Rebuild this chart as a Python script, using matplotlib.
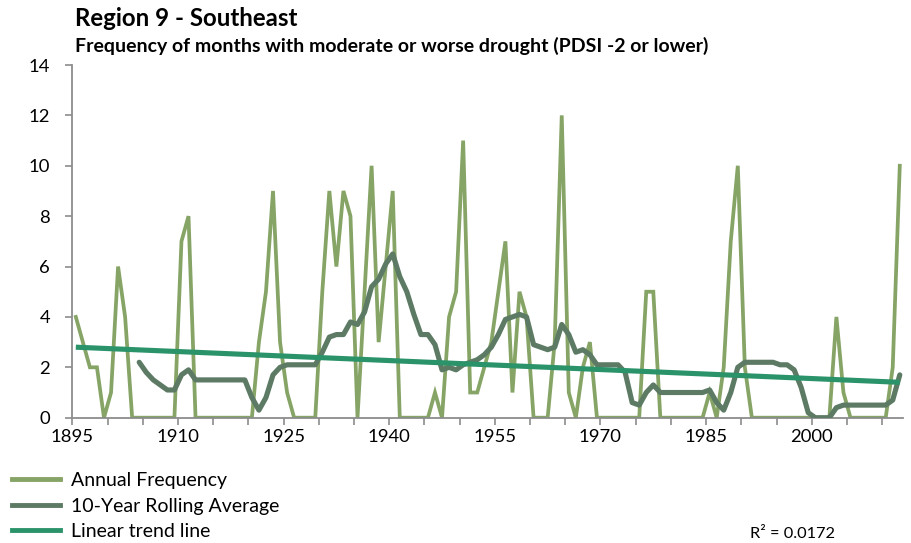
import numpy as np
import matplotlib
matplotlib.use("Agg")
import matplotlib.pyplot as plt
from matplotlib.lines import Line2D

plt.rcParams['font.family'] = ['Lato', 'DejaVu Sans']

# ---- data ----
first_year = 1895
annual_freq = [
    4, 3, 2, 2, 0, 1, 6, 4, 0, 0,          # 1895-1904
    0, 0, 0, 0, 0, 7, 8, 0, 0, 0,          # 1905-1914
    0, 0, 0, 0, 0, 0, 3, 5, 9, 3,          # 1915-1924
    1, 0, 0, 0, 0, 5, 9, 6, 9, 8,          # 1925-1934
    0, 5, 10, 3, 6, 9, 0, 0, 0, 0,         # 1935-1944
    0, 1, 0, 4, 5, 11, 1, 1, 2, 3,         # 1945-1954
    5, 7, 1, 5, 4, 0, 0, 0, 3, 12,         # 1955-1964
    1, 0, 2, 3, 0, 0, 0, 0, 0, 0,          # 1965-1974
    0, 5, 5, 0, 0, 0, 0, 0, 0, 0,          # 1975-1984
    1, 0, 2, 7, 10, 2, 0, 0, 0, 0,         # 1985-1994
    0, 0, 0, 0, 0, 0, 0, 0, 4, 1,          # 1995-2004
    0, 0, 0, 0, 0, 0, 2, 10,               # 2005-2012
]
rolling_first_year = 1904
rolling_avg = [
    2.2, 1.8, 1.5, 1.3, 1.1, 1.1, 1.7, 1.9, 1.5, 1.5,   # 1904-1913
    1.5, 1.5, 1.5, 1.5, 1.5, 1.5, 0.8, 0.3, 0.8, 1.7,   # 1914-1923
    2.0, 2.1, 2.1, 2.1, 2.1, 2.1, 2.6, 3.2, 3.3, 3.3,   # 1924-1933
    3.8, 3.7, 4.2, 5.2, 5.5, 6.1, 6.5, 5.6, 5.0, 4.1,   # 1934-1943
    3.3, 3.3, 2.9, 1.9, 2.0, 1.9, 2.1, 2.2, 2.3, 2.5,   # 1944-1953
    2.8, 3.3, 3.9, 4.0, 4.1, 4.0, 2.9, 2.8, 2.7, 2.8,   # 1954-1963
    3.7, 3.3, 2.6, 2.7, 2.5, 2.1, 2.1, 2.1, 2.1, 1.8,   # 1964-1973
    0.6, 0.5, 1.0, 1.3, 1.0, 1.0, 1.0, 1.0, 1.0, 1.0,   # 1974-1983
    1.0, 1.1, 0.6, 0.3, 1.0, 2.0, 2.2, 2.2, 2.2, 2.2,   # 1984-1993
    2.2, 2.1, 2.1, 1.9, 1.2, 0.2, 0.0, 0.0, 0.0, 0.4,   # 1994-2003
    0.5, 0.5, 0.5, 0.5, 0.5, 0.5, 0.5, 0.7, 1.7,        # 2004-2012
]
x_tick_labels = [1895, 1910, 1925, 1940, 1955, 1970, 1985, 2000]
y_ticks = [0, 2, 4, 6, 8, 10, 12, 14]
series_names = ["Annual Frequency", "10-Year Rolling Average", "Linear trend line"]
r2_text = "R\u00b2 = 0.0172"
title = "Region 9 - Southeast"
subtitle = "Frequency of months with moderate or worse drought (PDSI -2 or lower)"

# ---- styling ----
c_annual = "#86A466"
c_roll = "#5C7A64"
c_trend = "#2B936A"
c_axis = "#8C8C8C"

years = np.arange(first_year, first_year + len(annual_freq))
roll_years = np.arange(rolling_first_year, rolling_first_year + len(rolling_avg))
# categories are centred between tick marks
xa = years + 0.5
xr = roll_years + 0.5

coef = np.polyfit(years, np.array(annual_freq, dtype=float), 1)
trend = np.polyval(coef, years)

W, H = 911, 543
fig = plt.figure(figsize=(W / 100, H / 100), dpi=100)
ax = fig.add_axes([72.3 / W, 1 - 417.7 / H, (903.3 - 72.3) / W, (417.7 - 65) / H])

ax.plot(xa, annual_freq, color=c_annual, lw=2.7, solid_joinstyle='miter', zorder=2)
ax.plot(xr, rolling_avg, color=c_roll, lw=3.7, solid_joinstyle='round',
        solid_capstyle='round', zorder=3)
ax.plot(xa, trend, color=c_trend, lw=3.7, solid_capstyle='butt', zorder=4)

ax.set_xlim(first_year, first_year + len(annual_freq))
ax.set_ylim(0, 14)
ax.set_yticks(y_ticks)
ax.set_xticks(x_tick_labels)
ax.set_xticks(np.arange(first_year, first_year + len(annual_freq) + 1, 5), minor=True)
ax.set_xticklabels([str(v) for v in x_tick_labels])

for s in ['top', 'right']:
    ax.spines[s].set_visible(False)
for s in ['left', 'bottom']:
    ax.spines[s].set_color(c_axis)
    ax.spines[s].set_linewidth(1.3)
ax.tick_params(axis='both', which='both', color=c_axis, width=1.2, length=5,
               labelsize=13.3, labelcolor='black')
ax.xaxis.set_tick_params(which='major', pad=3)
ax.yaxis.set_tick_params(which='major', pad=11)

fig.text(75 / W, 1 - 18 / H, title, fontsize=17.3, fontweight='bold', va='center', ha='left')
fig.text(75 / W, 1 - 46 / H, subtitle, fontsize=14.0, fontweight='bold', va='center', ha='left')

handles = [Line2D([], [], color=c_annual, lw=3.5),
           Line2D([], [], color=c_roll, lw=3.5),
           Line2D([], [], color=c_trend, lw=3.5)]
fig.legend(handles, series_names, loc='upper left', bbox_to_anchor=(12 / W, 1 - 472 / H),
           frameon=False, fontsize=14.0, handlelength=2.45, handletextpad=0.6,
           labelspacing=0.44, borderaxespad=0, borderpad=0.0)

fig.text(750 / W, 1 - 534 / H, r2_text, fontsize=11.8, va='center', ha='left')

fig.savefig("out.png", dpi=100)
